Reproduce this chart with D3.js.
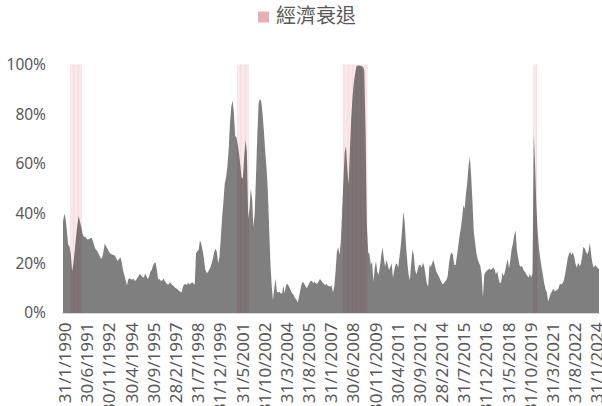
<!DOCTYPE html>
<html>
<head>
<meta charset="utf-8">
<script src="https://cdn.jsdelivr.net/npm/d3@7"></script>
<style>
body { margin: 0; background: #fff; }
text { font-family: "Noto Sans", sans-serif; fill: #595959; }
</style>
</head>
<body>
<div id="chart"></div>
<script>
var svgWidth = 602;
var svgHeight = 406;

var margin = { top: 64.5, right: 3, bottom: 93, left: 63 };
var chartWidth = svgWidth - margin.left - margin.right;
var chartHeight = svgHeight - margin.top - margin.bottom;

// monthly series, Jan 1990 .. Apr 2024 (% probability)
var firstYear = 1990;
var probability = [
  36.7, 40, 38, 33, 27.5, 26.8, 23.6, 16.6, 20, 25, 30.7, 35.3,
  39, 36.7, 34.7, 32, 30.7, 30.7, 30, 29.6, 29.7, 30.1, 30.3, 28.9,
  27, 25.7, 25.2, 24.1, 23, 22, 22, 24.6, 28, 26.9, 26, 25,
  24, 23.7, 23.4, 23.3, 22.9, 21.8, 20.9, 21.7, 22.4, 20.5, 17.3, 15.3,
  13.3, 11.2, 13.5, 14, 13.7, 13.4, 13.9, 12.9, 13.3, 14.2, 14.9, 15.8,
  15.1, 14.5, 14.3, 15.9, 14.7, 13.7, 14.6, 16.7, 17.3, 19, 20.1, 20.3,
  17.3, 13.5, 13.7, 13, 13, 13.9, 13, 12.2, 11.6, 11.5, 12.4, 11.8,
  11.2, 10.8, 10.2, 9.9, 9.5, 9, 8.6, 8.4, 10.7, 11.6, 11.6, 11.4,
  12.2, 11.5, 11.9, 12.4, 11.9, 11.5, 24, 24.9, 25.3, 29.3, 28, 25.3,
  22.2, 17.7, 16.2, 16.3, 17.3, 18.3, 19.9, 22, 24.6, 26, 24.4, 19.9,
  22.6, 30, 38.7, 44.7, 52, 54.4, 58.8, 65.5, 76.2, 82.9, 85.5, 80.9,
  71.2, 70.8, 67.7, 64.1, 59.4, 54, 54.6, 63.5, 69.5, 64.8, 38, 42,
  50, 46, 34.7, 40, 55.4, 71.5, 84.2, 86.2, 85.1, 80.2, 73.5, 65.5,
  58.8, 50, 35.3, 20.6, 11.2, 5.2, 9.9, 13.9, 8.6, 8.3, 8.6, 7.8,
  7.9, 11, 7.9, 11.2, 11.8, 11, 9.9, 8.6, 7.8, 7, 5.9, 5.4,
  4.1, 6.6, 9.2, 11.8, 12.6, 11.8, 10.8, 10, 11.2, 12.2, 13, 12.9,
  12, 12.7, 11.8, 11.9, 12.7, 13.7, 13.1, 12.3, 11.8, 11.2, 11.8, 11,
  10.8, 10.6, 11.2, 8.3, 10.6, 16.6, 24.6, 26.6, 23.3, 28.6, 40.7, 52.7,
  64.8, 67.2, 58.1, 51.4, 65.5, 78.2, 86.9, 92.9, 96.3, 99.3, 99.6, 99.6,
  99.5, 99.3, 99.1, 97.6, 72.8, 35.3, 24.4, 23.6, 19.3, 20.6, 12.6, 17.9,
  20.9, 16.6, 15.3, 18.6, 22.9, 26.6, 22, 18.6, 21.3, 19.5, 17.3, 18.6,
  19.9, 14.2, 17.3, 19.5, 19.9, 18.2, 22.6, 27, 33.3, 40.7, 36.7, 27.3,
  20.6, 15.3, 13.3, 19.9, 25.6, 23.3, 17.3, 15.5, 17.5, 19.3, 19.3, 18.2,
  20.3, 18.6, 15.3, 11.9, 10.6, 19.3, 18.6, 19.9, 21.3, 19.3, 17.1, 15.8,
  14.9, 13.8, 12.6, 11.6, 11.9, 12.7, 13.3, 14.9, 19.9, 23.3, 24.4, 23.3,
  19.3, 19.3, 22.6, 26.6, 30.7, 34, 38, 43.4, 42, 48, 52.7, 59.4,
  62.8, 54.8, 44.7, 32.7, 28.4, 24, 21.7, 20.1, 18.9, 15.5, 6.2, 15.3,
  16.5, 17, 17.5, 17.8, 17.3, 17.8, 18.3, 17.5, 15.5, 16.9, 13.9, 11.9,
  12.6, 16.3, 14.9, 16.9, 19.5, 21.7, 17.9, 21.3, 25.7, 28, 31.3, 33.3,
  25.7, 22.2, 19.3, 18.5, 19, 17.3, 16.7, 15.8, 15, 14.2, 15.8, 14.3,
  15.9, 72, 59.4, 42.7, 32.7, 26, 21.7, 18.2, 15.3, 11.9, 9.6, 8.3,
  4.6, 6.2, 7.8, 8.8, 9.9, 8.8, 9, 9.4, 10, 11.8, 11.5, 11.9,
  13.1, 15.5, 18.6, 22, 23.8, 24.4, 23.3, 24.4, 22.6, 19.8, 18.2, 20.3,
  18.9, 19.5, 22.6, 26.6, 26.1, 24.6, 23.6, 24.9, 28.4, 23.3, 19.9, 18.2,
  19.3, 18.7, 18.2, 17.5
];

// recession periods (first month, last month)
var recessions = [
  ["1990-07", "1991-03"],
  ["2001-03", "2001-11"],
  ["2007-12", "2009-06"],
  ["2020-02", "2020-04"]
];

var tickEvery = 17;
var tickLabels = [
  "31/1/1990", "30/6/1991", "30/11/1992", "30/4/1994", "30/9/1995",
  "28/2/1997", "31/7/1998", "31/12/1999", "31/5/2001", "31/10/2002",
  "31/3/2004", "31/8/2005", "31/1/2007", "30/6/2008", "30/11/2009",
  "30/4/2011", "30/9/2012", "28/2/2014", "31/7/2015", "31/12/2016",
  "31/5/2018", "31/10/2019", "31/3/2021", "31/8/2022", "31/1/2024"
];
var yTicks = [0, 20, 40, 60, 80, 100];
var legendLabel = "經濟衰退";

function monthIndex(s) {
  var p = s.split("-");
  return (+p[0] - firstYear) * 12 + (+p[1] - 1);
}

var svg = d3.select("#chart")
  .append("svg")
  .attr("width", svgWidth)
  .attr("height", svgHeight);

var chartGroup = svg.append("g")
  .attr("transform", `translate(${margin.left}, ${margin.top})`);

var xScale = d3.scaleLinear()
  .domain([0, probability.length - 1])
  .range([0, chartWidth]);

var yScale = d3.scaleLinear()
  .domain([0, 100])
  .range([chartHeight, 0]);

// recession bars (one per month)
var step = xScale(1) - xScale(0);
var recMonths = [];
recessions.forEach(function(r) {
  d3.range(monthIndex(r[0]), monthIndex(r[1]) + 1).forEach(function(i) { recMonths.push(i); });
});

chartGroup.selectAll(".rec")
  .data(recMonths)
  .enter()
  .append("rect")
  .attr("class", "rec")
  .attr("x", d => xScale(d) - step * 0.35)
  .attr("width", step * 0.7)
  .attr("y", yScale(100))
  .attr("height", yScale(0) - yScale(100))
  .attr("fill", "#eaa6ad")
  .attr("fill-opacity", 0.42);

// probability area
var area = d3.area()
  .x((d, i) => xScale(i))
  .y0(yScale(0))
  .y1(d => yScale(d));

chartGroup.append("path")
  .datum(probability)
  .attr("d", area)
  .attr("fill", "#000")
  .attr("fill-opacity", 0.5);

// y axis
var leftAxis = d3.axisLeft(yScale)
  .tickValues(yTicks)
  .tickSize(0)
  .tickPadding(17)
  .tickFormat(d => d + "%");

var yAxisG = chartGroup.append("g").call(leftAxis);
yAxisG.select(".domain").remove();
yAxisG.selectAll("text")
  .style("font-size", "15.5px")
  .style("font-family", "'Noto Sans', sans-serif")
  .attr("fill", "#595959");

// x axis (labels every 17 months)
var bottomAxis = d3.axisBottom(xScale)
  .tickValues(tickLabels.map((d, k) => k * tickEvery))
  .tickSize(0)
  .tickSizeOuter(0)
  .tickFormat((d, k) => tickLabels[k]);

var xAxisG = chartGroup.append("g")
  .attr("transform", `translate(0, ${chartHeight})`)
  .call(bottomAxis);

xAxisG.select(".domain")
  .attr("d", `M-1,0.5H${chartWidth + 1}`)
  .attr("stroke", "#d9d9d9")
  .attr("stroke-width", 1.2);

xAxisG.selectAll("text")
  .attr("transform", "rotate(-90)")
  .attr("text-anchor", "end")
  .attr("x", -9.5)
  .attr("y", 0)
  .attr("dy", "0.45em")
  .style("font-size", "17px")
  .style("font-family", "'Noto Sans', sans-serif")
  .attr("fill", "#595959");

// legend
var legend = svg.append("g");
legend.append("rect")
  .attr("x", 258)
  .attr("y", 11.5)
  .attr("width", 11)
  .attr("height", 11)
  .attr("fill", "#e8afb4");
legend.append("text")
  .attr("x", 276)
  .attr("y", 22.5)
  .style("font-family", "'Noto Sans CJK TC', sans-serif")
  .style("font-size", "20px")
  .attr("fill", "#595959")
  .text(legendLabel);
</script>
</body>
</html>
